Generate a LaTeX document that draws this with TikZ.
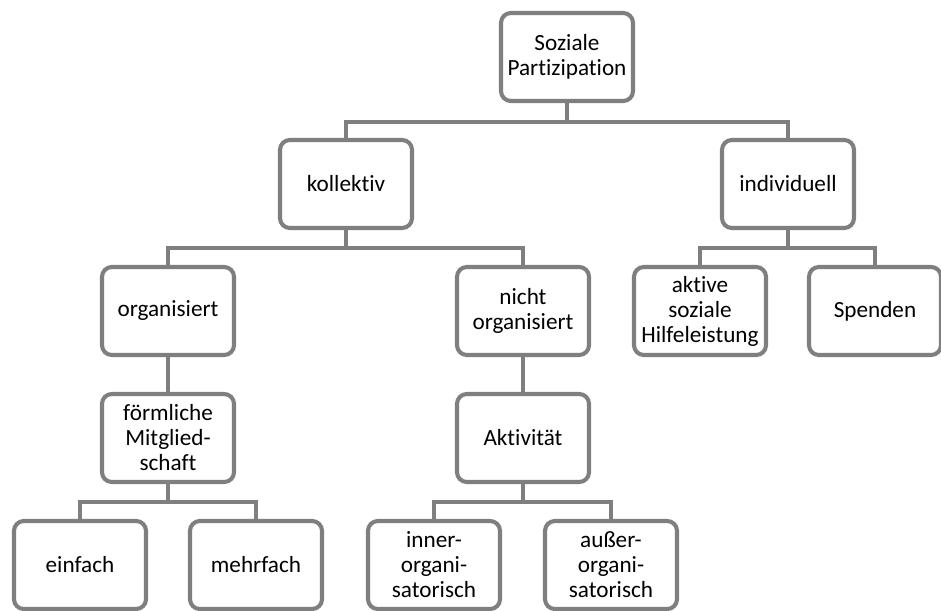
\documentclass[tikz,border=0pt]{standalone}
\usepackage{fontspec}
\setmainfont{Carlito}[Ligatures=NoCommon]
\usetikzlibrary{positioning, calc}

\definecolor{boxgray}{RGB}{127,127,127}

\begin{document}
\begin{tikzpicture}[node distance=3.175cm, on grid, auto,
    box/.style={draw=boxgray, line width=2.9pt, rounded corners=7pt, fill=white,
                minimum width=3.3cm, minimum height=2.2cm, align=center,
                font=\fontsize{16.5}{17.8}\selectfont, inner sep=2pt},
    link/.style={draw=boxgray, line width=2.9pt}]

    \useasboundingbox (0,0) rectangle (23.525,-15.275);

    % Nodes of the tree
    \node (root) [box] at (14.175,-1.425) {Soziale\\Partizipation};
    \node (kol) [box, below left=3.175cm and 5.525cm of root] {kollektiv};
    \node (ind) [box, below right=3.175cm and 5.525cm of root] {individuell};
    \node (org) [box, below left=3.175cm and 4.45cm of kol] {organisiert};
    \node (nor) [box, below right=3.175cm and 4.425cm of kol] {nicht\\organisiert};
    \node (hil) [box, below left=3.175cm and 2.2cm of ind] {aktive\\soziale\\Hilfeleistung};
    \node (spe) [box, below right=3.175cm and 2.175cm of ind] {Spenden};
    \node (mit) [box, below=of org] {förmliche\\Mitglied-\\schaft};
    \node (akt) [box, below=of nor] {Aktivität};
    \node (ein) [box, below left=3.175cm and 2.2cm of mit] {einfach};
    \node (meh) [box, below right=3.175cm and 2.2cm of mit] {mehrfach};
    \node (inn) [box, below left=3.175cm and 2.225cm of akt] {inner-\\organi-\\satorisch};
    \node (aus) [box, below right=3.175cm and 2.2cm of akt] {außer-\\organi-\\satorisch};

    % Connectors of the tree
    \draw[link] (root.south) -- ++(0,-0.475) -| (kol.north);
    \draw[link] (root.south) -- ++(0,-0.475) -| (ind.north);
    \draw[link] (kol.south) -- ++(0,-0.45) -| (org.north);
    \draw[link] (kol.south) -- ++(0,-0.45) -| (nor.north);
    \draw[link] (ind.south) -- ++(0,-0.45) -| (hil.north);
    \draw[link] (ind.south) -- ++(0,-0.45) -| (spe.north);
    \draw[link] (org.south) -- (mit.north);
    \draw[link] (nor.south) -- (akt.north);
    \draw[link] (mit.south) -- ++(0,-0.45) -| (ein.north);
    \draw[link] (mit.south) -- ++(0,-0.45) -| (meh.north);
    \draw[link] (akt.south) -- ++(0,-0.45) -| (inn.north);
    \draw[link] (akt.south) -- ++(0,-0.45) -| (aus.north);

\end{tikzpicture}
\end{document}
